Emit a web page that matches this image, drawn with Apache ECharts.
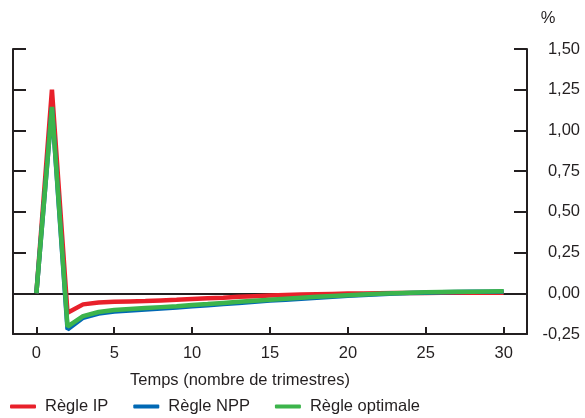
<!DOCTYPE html>
<html>
<head>
<meta charset="utf-8">
<script src="https://cdn.jsdelivr.net/npm/echarts@6/dist/echarts.min.js"></script>
<style>
  html, body { margin: 0; padding: 0; background: #fff; }
  #chart { width: 585px; height: 418px; }
</style>
</head>
<body>
<div id="chart"></div>
<script>
// Quarters after the shock
const quarters = Array.from({ length: 31 }, (_, i) => i);

// Responses (%) under each policy rule
const regleIP = [0, 1.25, -0.12, -0.068, -0.056, -0.052, -0.05, -0.048, -0.044, -0.04, -0.035,
  -0.031, -0.027, -0.022, -0.018, -0.014, -0.011, -0.008, -0.006, -0.004, -0.002,
  -0.001, 0, 0.001, 0.002, 0.002, 0.003, 0.003, 0.003, 0.004, 0.004];
const regleNPP = [0, 1.14, -0.222, -0.15, -0.125, -0.112, -0.105, -0.099, -0.093, -0.087, -0.08,
  -0.073, -0.066, -0.059, -0.052, -0.045, -0.039, -0.033, -0.027, -0.021, -0.015,
  -0.01, -0.006, -0.002, 0.001, 0.004, 0.006, 0.008, 0.009, 0.01, 0.011];
const regleOptimale = [0, 1.145, -0.205, -0.14, -0.115, -0.103, -0.097, -0.091, -0.085, -0.079, -0.072,
  -0.066, -0.059, -0.052, -0.046, -0.04, -0.034, -0.028, -0.022, -0.017, -0.012,
  -0.007, -0.003, 0, 0.003, 0.006, 0.008, 0.009, 0.01, 0.011, 0.012];

const xTicks = [0, 5, 10, 15, 20, 25, 30];
const seriesNames = ['Règle IP', 'Règle NPP', 'Règle optimale'];
const seriesColors = ['#e8202a', '#0068b4', '#3cb44b'];

const axisColor = '#231f20';
const font = 'Liberation Sans, Arial, sans-serif';
const fs = 16.5;

const pairs = vals => quarters.map((q, i) => [q, vals[i]]);
const fmt = v => v.toFixed(2).replace('.', ',');

const chart = echarts.init(document.getElementById('chart'));
chart.setOption({
  animation: false,
  textStyle: { fontFamily: font },
  grid: { left: 13, right: 58, top: 49, bottom: 84, containLabel: false },
  legend: {
    left: 5, top: 393,
    itemWidth: 26, itemHeight: 4, itemGap: 25,
    icon: 'roundRect',
    textStyle: { fontSize: fs, color: '#231f20', fontFamily: font, padding: [0, 0, 0, 4] },
    data: seriesNames
  },
  graphic: [
    { type: 'text', x: 548, y: 18, style: { text: '%', fontSize: fs, fill: '#231f20', fontFamily: font,
      align: 'center', verticalAlign: 'middle' } },
    { type: 'text', x: 240, y: 380, style: { text: 'Temps (nombre de trimestres)', fontSize: fs, fill: '#231f20',
      fontFamily: font, align: 'center', verticalAlign: 'middle' } }
  ],
  xAxis: {
    type: 'value', min: -1.5, max: 31.5,
    axisLine: { show: true, onZero: false, lineStyle: { color: axisColor, width: 2 } },
    axisTick: { show: true, inside: true, length: 7, customValues: xTicks, lineStyle: { color: axisColor, width: 2 } },
    axisLabel: { customValues: xTicks, fontSize: fs, color: '#231f20', margin: 11 },
    splitLine: { show: false }
  },
  yAxis: [
    {
      type: 'value', position: 'left', min: -0.25, max: 1.5, interval: 0.25,
      axisLine: { show: true, onZero: false, lineStyle: { color: axisColor, width: 2 } },
      axisTick: { show: true, inside: true, length: 13, lineStyle: { color: axisColor, width: 2 } },
      axisLabel: { show: false },
      splitLine: { show: false }
    },
    {
      type: 'value', position: 'right', min: -0.25, max: 1.5, interval: 0.25,
      axisLine: { show: true, onZero: false, lineStyle: { color: axisColor, width: 2 } },
      axisTick: { show: true, inside: true, length: 13, lineStyle: { color: axisColor, width: 2 } },
      axisLabel: { formatter: fmt, fontSize: fs, color: '#231f20', align: 'right', margin: 53 },
      splitLine: { show: false }
    }
  ],
  series: [regleIP, regleNPP, regleOptimale].map((vals, i) => ({
    name: seriesNames[i],
    type: 'line',
    data: pairs(vals),
    symbol: 'none',
    color: seriesColors[i],
    lineStyle: { width: 4.5, color: seriesColors[i] },
    z: 3 + i,
    markLine: i === 0 ? {
      silent: true, symbol: 'none', label: { show: false },
      lineStyle: { color: axisColor, width: 2, type: 'solid' },
      data: [{ yAxis: 0 }],
      z: 1
    } : undefined
  }))
});
</script>
</body>
</html>
